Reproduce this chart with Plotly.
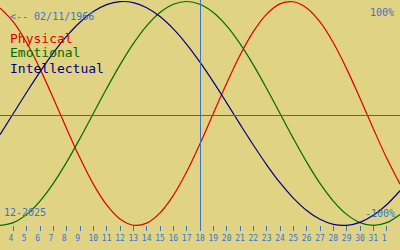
import plotly.graph_objects as go

# Days of December 2025 (32, 33 = Jan 1, Jan 2 2026)
days = list(range(3, 34))
physical = [0.9423, 0.8170, 0.6311, 0.3984, 0.1362, -0.1362, -0.3984, -0.6311,
            -0.8170, -0.9423, -0.9977, -0.9791, -0.8879, -0.7308, -0.5196, -0.2698,
            0.0, 0.2698, 0.5196, 0.7308, 0.8879, 0.9791, 0.9977, 0.9423, 0.8170,
            0.6311, 0.3984, 0.1362, -0.1362, -0.3984, -0.6311]
emotional = [-1.0, -0.9749, -0.9010, -0.7818, -0.6235, -0.4339, -0.2225, 0.0,
             0.2225, 0.4339, 0.6235, 0.7818, 0.9010, 0.9749, 1.0, 0.9749, 0.9010,
             0.7818, 0.6235, 0.4339, 0.2225, 0.0, -0.2225, -0.4339, -0.6235,
             -0.7818, -0.9010, -0.9749, -1.0, -0.9749, -0.9010]
intellectual = [-0.1893, 0.0, 0.1893, 0.3717, 0.5406, 0.6901, 0.8146, 0.9096,
                0.9718, 0.9989, 0.9898, 0.9450, 0.8660, 0.7557, 0.6182, 0.4582,
                0.2817, 0.0951, -0.0951, -0.2817, -0.4582, -0.6182, -0.7557,
                -0.8660, -0.9450, -0.9898, -0.9989, -0.9718, -0.9096, -0.8146,
                -0.6901]

tick_days = list(range(4, 33))
tick_labels = [str(d) if d <= 31 else str(d - 31) for d in tick_days]
tick_labels = [t if len(t) == 2 else t + "\u00a0" for t in tick_labels]

today = 18
series_names = ["Physical", "Emotional", "Intellectual"]
series_colors = ["#dd0000", "#006b00", "#000080"]
birth_text = "<-- 02/11/1966"
month_text = "12-2025"

BG = "#e0d384"
BLUE = "#3a74c8"
FONT = "DejaVu Sans Mono"

fig = go.Figure()
for name, vals, col in zip(series_names, [physical, emotional, intellectual], series_colors):
    fig.add_trace(go.Scatter(x=days, y=vals, mode="lines", name=name,
                             line=dict(color=col, width=1.2, shape="spline"),
                             showlegend=False, hoverinfo="skip"))

fig.add_shape(type="line", xref="paper", yref="y", x0=0, x1=1, y0=-0.018, y1=-0.018,
              line=dict(color="#3c6a9c", width=1))
fig.add_shape(type="line", xref="x", yref="paper", x0=today + 0.0375, x1=today + 0.0375,
              y0=0.08, y1=1, line=dict(color=BLUE, width=1))

ann = []
for i, (name, col) in enumerate(zip(series_names, series_colors)):
    ann.append(dict(text=name, x=8, y=38 + 15 * i, font=dict(color=col, size=13)))
ann.append(dict(text=birth_text, x=8, y=16.5, font=dict(color=BLUE, size=10)))
ann.append(dict(text=month_text, x=2, y=212, font=dict(color=BLUE, size=10)))
for a in ann:
    fig.add_annotation(text=a["text"], xref="paper", yref="paper",
                       x=a["x"] / 400, y=1 - a["y"] / 250, xanchor="left", yanchor="middle",
                       showarrow=False, font=dict(family=FONT, **a["font"]))
fig.add_annotation(text="100%", xref="paper", yref="paper", x=396 / 400, y=1 - 12.5 / 250,
                   xanchor="right", yanchor="middle", showarrow=False,
                   font=dict(family=FONT, color=BLUE, size=10))
fig.add_annotation(text="-100%", xref="paper", yref="paper", x=397 / 400, y=1 - 213.5 / 250,
                   xanchor="right", yanchor="middle", showarrow=False,
                   font=dict(family=FONT, color=BLUE, size=10))

fig.update_layout(
    width=400, height=250, margin=dict(l=0, r=0, t=0, b=0),
    paper_bgcolor=BG, plot_bgcolor=BG,
    xaxis=dict(range=[3, 33], anchor="free", position=0.1, tickvals=tick_days,
               ticktext=tick_labels, ticks="outside", ticklen=5, tickwidth=1,
               tickcolor=BLUE, showline=False, showgrid=False, zeroline=False,
               tickfont=dict(family=FONT, size=8, color=BLUE), fixedrange=True),
    yaxis=dict(range=[-1.219, 1.0134], visible=False, fixedrange=True),
)

fig.write_html("out.html", config={"displayModeBar": False})
